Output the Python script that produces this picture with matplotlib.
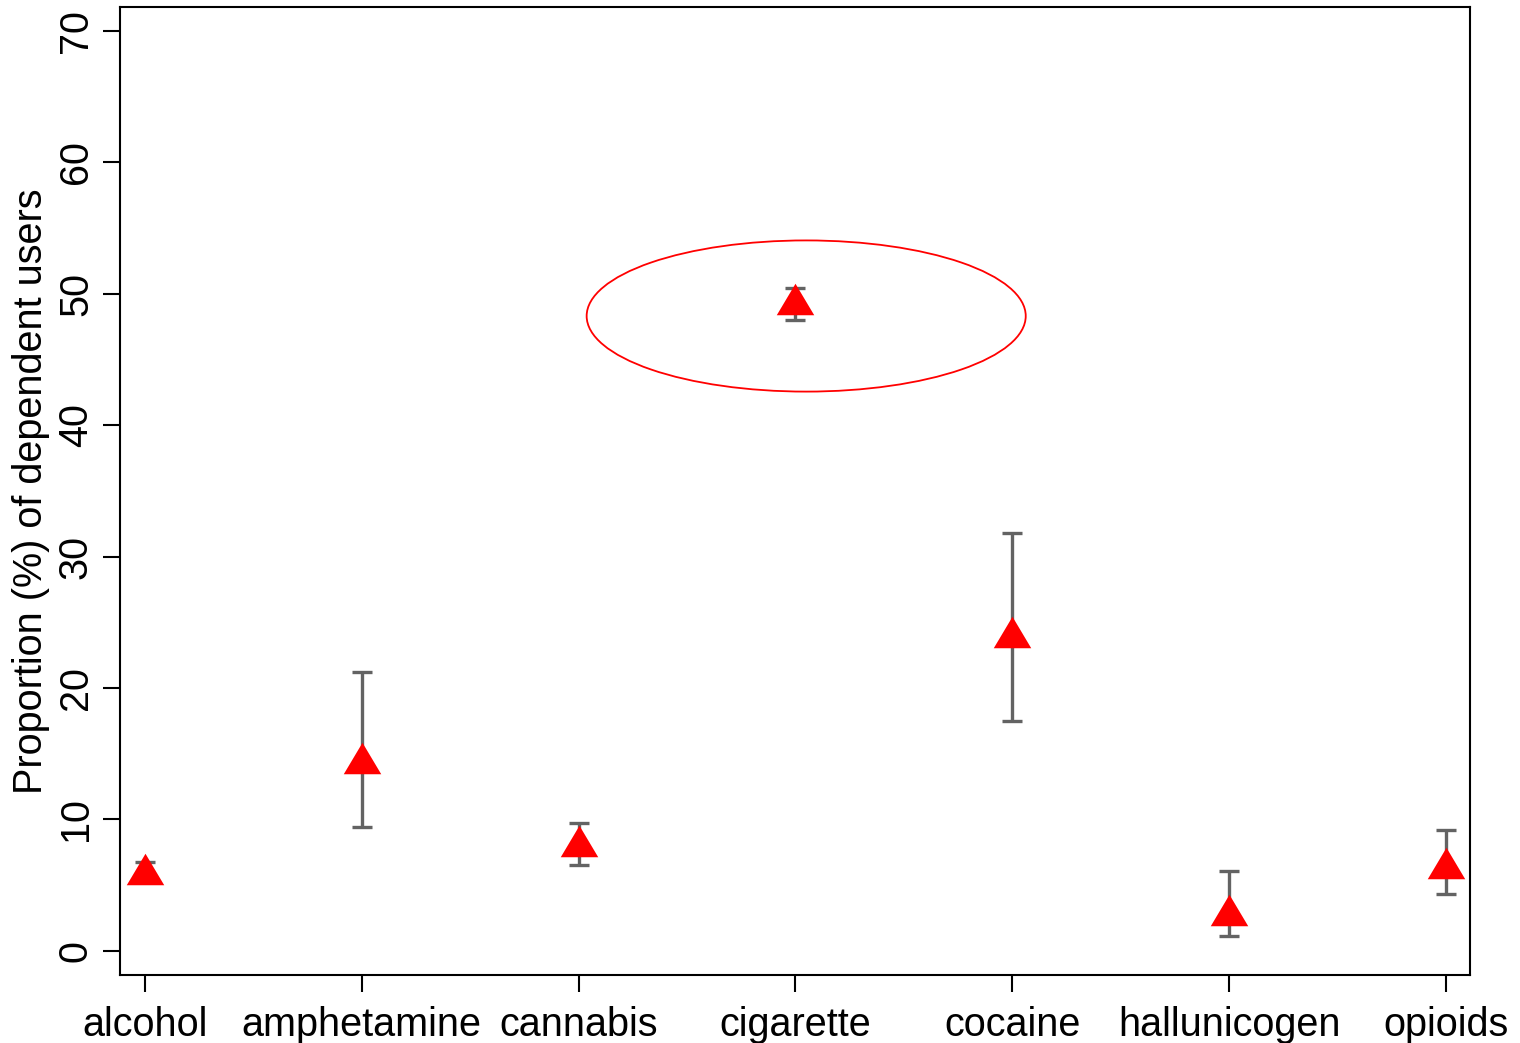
import numpy as np
import matplotlib
matplotlib.use("Agg")
import matplotlib.pyplot as plt
from matplotlib.patches import Ellipse

plt.rcParams['font.family'] = ['Liberation Sans', 'DejaVu Sans']

# Dữ liệu
drugs = ['alcohol', 'amphetamine', 'cannabis', 'cigarette', 'cocaine',
         'hallunicogen', 'opioids']
prop = [6.2, 14.7, 8.4, 49.6, 24.3, 3.15, 6.7]
lower = [5.6, 9.4, 6.5, 48.0, 17.5, 1.15, 4.3]
upper = [6.8, 21.2, 9.7, 50.4, 31.8, 6.1, 9.2]
yticks = [0, 10, 20, 30, 40, 50, 60, 70]

x = np.arange(len(drugs))
prop = np.array(prop)
err = [prop - np.array(lower), np.array(upper) - prop]

fig = plt.figure(figsize=(15.2, 10.43), dpi=100)
ax = fig.add_axes([0.0789, 0.0652, 0.888, 0.928])

ax.errorbar(x, prop, yerr=err, fmt='none', ecolor='#636363',
            elinewidth=2.4, capsize=7.5, capthick=2.4, zorder=2)

tri = [(0, 0.84), (-1, -0.84), (1, -0.84)]
ax.plot(x, prop, linestyle='none', marker=tri, markersize=27,
        color='#ff0000', markeredgewidth=0, zorder=3)

# Vòng elip quanh thuốc lá
ell = Ellipse((3.05, 48.3), width=2.025, height=11.5, fill=False,
              edgecolor='#ff0000', linewidth=1.3, zorder=4)
ax.add_patch(ell)

ax.set_xlim(-0.115, 6.11)
ax.set_ylim(-1.83, 71.8)
ax.set_xticks(x)
ax.set_xticklabels(drugs, fontsize=28.5)
ax.set_yticks(yticks)
ax.set_yticklabels([str(v) for v in yticks], fontsize=28.5, rotation=90,
                   va='center')
ax.set_ylabel('Proportion (%) of dependent users', fontsize=28.5, labelpad=5)

ax.tick_params(axis='both', length=12, width=1.5, direction='out', pad=6)
ax.tick_params(axis='x', pad=10)
for s in ax.spines.values():
    s.set_linewidth(1.5)

fig.savefig('out.png', dpi=100)
